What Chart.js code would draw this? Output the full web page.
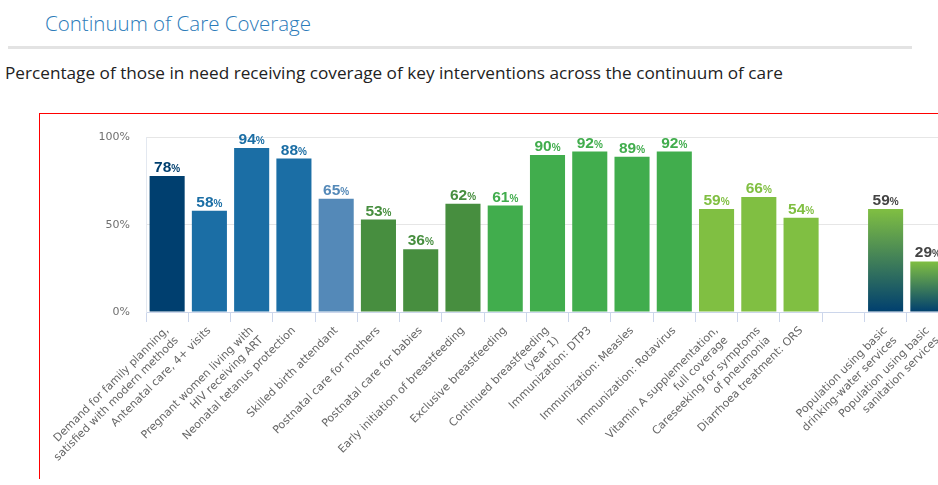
<!DOCTYPE html>
<html>
<head>
<meta charset="utf-8">
<script src="https://cdn.jsdelivr.net/npm/chart.js@4.4.1/dist/chart.umd.min.js"></script>
<style>
  html, body { margin: 0; padding: 0; background: #fff; overflow: hidden; width: 938px; height: 485px; }
  body { position: relative; }
  .title { position: absolute; left: 45px; top: 9px; font: 300 20.5px "Open Sans", sans-serif; color: #2b7bb9; white-space: nowrap; }
  .rule { position: absolute; left: 8px; top: 46px; width: 904px; height: 3px; background: #e3e3e3; }
  .subtitle { position: absolute; left: 5px; top: 61px; font: 17.2px "Open Sans", sans-serif; color: #222; white-space: nowrap; }
  .frame-top { position: absolute; left: 39px; top: 113px; width: 900px; height: 1px; background: #ff0000; }
  .frame-left { position: absolute; left: 39px; top: 113px; width: 1px; height: 366px; background: #ff0000; }
  .chart-box { position: absolute; left: 40px; top: 115px; width: 930px; height: 370px; }
</style>
</head>
<body>
<div class="title">Continuum of Care Coverage</div>
<div class="rule"></div>
<div class="subtitle">Percentage of those in need receiving coverage of key interventions across the continuum of care</div>
<div class="chart-box"><canvas id="cocChart"></canvas></div>
<div class="frame-top"></div>
<div class="frame-left"></div>

<script>
// Continuum of care coverage data
const interventions = [
  ['Demand for family planning,', 'satisfied with modern methods'],
  'Antenatal care, 4+ visits',
  ['Pregnant women living with', 'HIV receiving ART'],
  'Neonatal tetanus protection',
  'Skilled birth attendant',
  'Postnatal care for mothers',
  'Postnatal care for babies',
  'Early initiation of breastfeeding',
  'Exclusive breastfeeding',
  ['Continued breastfeeding', '(year 1)'],
  'Immunization: DTP3',
  'Immunization: Measles',
  'Immunization: Rotavirus',
  ['Vitamin A supplementation,', 'full coverage'],
  ['Careseeking for symptoms', 'of pneumonia'],
  'Diarrhoea treatment: ORS',
  '',
  ['Population using basic', 'drinking-water services'],
  ['Population using basic', 'sanitation services']
];
const coverage = [78, 58, 94, 88, 65, 53, 36, 62, 61, 90, 92, 89, 92, 59, 66, 54, null, 59, 29];
const yTicks = [0, 50, 100];

const NAVY = '#003f6f', BLUE = '#1b6ea5', LIGHTBLUE = '#5489b8';
const DKGREEN = '#478e3f', GREEN = '#41ad4d', LTGREEN = '#80bf42';
const barColors = [NAVY, BLUE, BLUE, BLUE, LIGHTBLUE, DKGREEN, DKGREEN, DKGREEN,
  GREEN, GREEN, GREEN, GREEN, GREEN, LTGREEN, LTGREEN, LTGREEN, null, 'grad', 'grad'];
const labelColors = barColors.map(c => c === 'grad' ? '#444' : c);

function barFill(context) {
  const c = barColors[context.dataIndex];
  if (c !== 'grad') return c || 'transparent';
  const chart = context.chart;
  const y = chart.scales && chart.scales.y;
  if (!chart.chartArea || !y) return LTGREEN;
  const top = y.getPixelForValue(coverage[context.dataIndex]);
  const bottom = y.getPixelForValue(0);
  const g = chart.ctx.createLinearGradient(0, top, 0, bottom);
  g.addColorStop(0, LTGREEN);
  g.addColorStop(1, NAVY);
  return g;
}

const valueLabels = {
  id: 'valueLabels',
  afterDatasetsDraw(chart) {
    const ctx = chart.ctx;
    const meta = chart.getDatasetMeta(0);
    meta.data.forEach((bar, i) => {
      const v = coverage[i];
      if (v == null) return;
      const big = 'bold 15.5px "Liberation Sans", Arial, sans-serif';
      const small = 'bold 10px "Liberation Sans", Arial, sans-serif';
      ctx.save();
      ctx.fillStyle = labelColors[i];
      ctx.textAlign = 'left';
      ctx.textBaseline = 'alphabetic';
      ctx.font = big;
      const w1 = ctx.measureText(String(v)).width;
      ctx.font = small;
      const w2 = ctx.measureText('%').width;
      const x = bar.x - (w1 + w2) / 2;
      const y = bar.y - 4;
      ctx.font = big;
      ctx.fillText(String(v), x, y);
      ctx.font = small;
      ctx.fillText('%', x + w1, y);
      ctx.restore();
    });
  }
};

document.addEventListener('DOMContentLoaded', function () {
  const cv = document.getElementById('cocChart');
  const chart = new Chart(cv, {
    type: 'bar',
    data: {
      labels: interventions,
      datasets: [{
        data: coverage,
        backgroundColor: barFill,
        borderWidth: 0,
        categoryPercentage: 1,
        barPercentage: 0.83
      }]
    },
    options: {
      responsive: true,
      maintainAspectRatio: false,
      animation: false,
      devicePixelRatio: 1,
      layout: { padding: { top: 21, right: 21, left: 0, bottom: 0 } },
      plugins: { legend: { display: false }, tooltip: { enabled: false } },
      scales: {
        x: {
          afterFit: s => { s.height = 173; },
          border: { color: '#ccd6eb' },
          grid: { drawOnChartArea: false, drawTicks: true, tickLength: 10, color: '#ccd6eb' },
          ticks: {
            autoSkip: false, minRotation: 45, maxRotation: 45, padding: 2,
            color: '#666', font: { family: '"DejaVu Sans", sans-serif', size: 11, lineHeight: 1.25 }
          }
        },
        y: {
          min: 0, max: 100,
          afterFit: s => { s.width = 106; },
          afterBuildTicks: s => { s.ticks = yTicks.map(v => ({ value: v })); },
          border: { display: true, color: '#e3e8f0' },
          grid: { color: '#e6e6e6', drawTicks: false },
          ticks: {
            padding: 16, color: '#707070',
            font: { family: '"DejaVu Sans", sans-serif', size: 11 },
            callback: v => v + '%'
          }
        }
      }
    },
    plugins: [valueLabels]
  });
  chart.update('none');
});
</script>
</body>
</html>
